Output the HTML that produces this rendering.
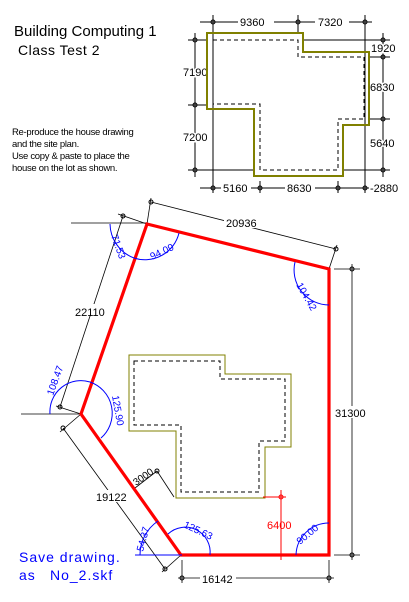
<!DOCTYPE html>
<html><head><meta charset="utf-8"><style>
html,body{margin:0;padding:0;background:#fff;}
svg{display:block;font-family:"Liberation Sans",sans-serif;}
</style></head><body>
<svg width="409" height="602" viewBox="0 0 409 602">
<g fill="#000">
<text x="14" y="36" font-size="15">Building Computing 1</text>
<text x="18" y="55" font-size="14" letter-spacing="0.5">Class Test 2</text>
<text x="12" y="135" font-size="9.5" letter-spacing="-0.3">Re-produce the house drawing</text>
<text x="12" y="147" font-size="9.5" letter-spacing="-0.3">and the site plan.</text>
<text x="12" y="159" font-size="9.5" letter-spacing="-0.3">Use copy &amp; paste to  place the</text>
<text x="12" y="171" font-size="9.5" letter-spacing="-0.3">house on the lot as shown.</text>
</g>
<g fill="#0000ff" font-size="14" letter-spacing="1">
<text x="19" y="562">Save drawing.</text>
<text x="19" y="580">as<tspan x="50">No_2.skf</tspan></text>
</g>

<g stroke="#000" stroke-width="1" fill="none">
<line x1="200" y1="22" x2="372" y2="22"/>
<line x1="213" y1="15" x2="213" y2="193"/>
<line x1="298" y1="15" x2="298" y2="34"/>
<line x1="365" y1="15" x2="365" y2="193"/>
<line x1="195" y1="33" x2="195" y2="177"/>
<line x1="188" y1="40" x2="206" y2="40"/>
<line x1="188" y1="105" x2="206" y2="105"/>
<line x1="188" y1="170" x2="254" y2="170"/>
<line x1="343" y1="170" x2="390" y2="170"/>
<line x1="303" y1="40" x2="390" y2="40"/>
<line x1="369" y1="57" x2="390" y2="57"/>
<line x1="369" y1="119" x2="390" y2="119"/>
<line x1="383" y1="33" x2="383" y2="177"/>
<line x1="200" y1="188" x2="390" y2="188"/>
<line x1="260" y1="181" x2="260" y2="193"/>
<line x1="338" y1="181" x2="338" y2="193"/>
</g>
<g fill="none" stroke="#000">
<circle cx="213" cy="22" r="2"/><circle cx="298" cy="22" r="2"/><circle cx="365" cy="22" r="2"/>
<circle cx="195" cy="40" r="2"/><circle cx="195" cy="105" r="2"/><circle cx="195" cy="170" r="2"/>
<circle cx="383" cy="40" r="2"/><circle cx="383" cy="57" r="2"/><circle cx="383" cy="119" r="2"/><circle cx="383" cy="170" r="2"/>
<circle cx="213" cy="188" r="2"/><circle cx="260" cy="188" r="2"/><circle cx="338" cy="188" r="2"/><circle cx="365" cy="188" r="2"/>
</g>
<g font-size="11" fill="#000">
<rect x="238" y="15" width="36" height="12" fill="#fff"/><text x="240" y="26">9360</text>
<rect x="315" y="15" width="34" height="12" fill="#fff"/><text x="318" y="26">7320</text>
<text x="183" y="76" stroke="#fff" stroke-width="3" paint-order="stroke">7190</text>
<text x="183" y="141" stroke="#fff" stroke-width="3" paint-order="stroke">7200</text>
<text x="371" y="52" stroke="#fff" stroke-width="3" paint-order="stroke">1920</text>
<text x="370" y="91" stroke="#fff" stroke-width="3" paint-order="stroke">6830</text>
<text x="370" y="147" stroke="#fff" stroke-width="3" paint-order="stroke">5640</text>
<rect x="221" y="182" width="30" height="12" fill="#fff"/><text x="223" y="192">5160</text>
<rect x="285" y="182" width="30" height="12" fill="#fff"/><text x="287" y="192">8630</text>
<text x="370" y="192" stroke="#fff" stroke-width="3" paint-order="stroke">-2880</text>
</g>
<polygon points="207,33 303,33 303,52 369,52 369,125 343,125 343,176 254,176 254,109 207,109" fill="none" stroke="#808000" stroke-width="2"/>
<polygon points="213,40 298,40 298,57 364,57 364,119 338,119 338,170 260,170 260,104 213,104" fill="none" stroke="#000" stroke-width="1" stroke-dasharray="4,3"/>

<g stroke="#000" stroke-width="0.8" fill="none">
<line x1="151" y1="202" x2="336" y2="249"/>
<line x1="147" y1="224" x2="151" y2="198"/>
<line x1="329" y1="269" x2="337" y2="245"/>
<line x1="123" y1="216" x2="60" y2="407"/>
<line x1="147" y1="224" x2="118" y2="214"/>
<line x1="81" y1="414" x2="56" y2="406"/>
<line x1="71" y1="223" x2="147" y2="223"/>
<line x1="21" y1="414" x2="81" y2="414"/>
<line x1="63" y1="428" x2="165" y2="569"/>
<line x1="81" y1="414" x2="60" y2="432"/>
<line x1="181" y1="555" x2="162" y2="572"/>
<line x1="182" y1="560" x2="182" y2="583"/>
<line x1="329" y1="560" x2="329" y2="583"/>
<line x1="178" y1="578" x2="334" y2="578"/>
<line x1="334" y1="269" x2="360" y2="269"/>
<line x1="334" y1="555" x2="360" y2="555"/>
<line x1="352" y1="264" x2="352" y2="560"/>
<line x1="135" y1="488" x2="157" y2="471"/>
<line x1="157" y1="471" x2="174" y2="497"/>
</g>
<g fill="none" stroke="#000">
<circle cx="151" cy="202" r="2"/><circle cx="336" cy="249" r="2"/>
<circle cx="123" cy="216" r="2"/><circle cx="60" cy="407" r="2"/>
<circle cx="63" cy="428" r="2"/><circle cx="165" cy="569" r="2"/>
<circle cx="182" cy="578" r="2"/><circle cx="329" cy="578" r="2"/>
<circle cx="352" cy="269" r="2"/><circle cx="352" cy="555" r="2"/>
<circle cx="157" cy="471" r="2"/>
</g>
<g font-size="11" fill="#000">
<rect x="224" y="216" width="36" height="12" fill="#fff"/><text x="226" y="227">20936</text>
<rect x="73" y="304" width="36" height="12" fill="#fff"/><text x="75" y="316">22110</text>
<rect x="94" y="490" width="36" height="12" fill="#fff"/><text x="96" y="501">19122</text>
<rect x="200" y="572" width="36" height="12" fill="#fff"/><text x="202" y="583">16142</text>
<rect x="334" y="406" width="36" height="12" fill="#fff"/><text x="335" y="417">31300</text>
<text x="0" y="0" font-size="10" transform="translate(136,486) rotate(-35)">3000</text>
</g>
<polygon points="147,224 329,269 329,555 181,555 81,414" fill="none" stroke="#ff0000" stroke-width="3.2"/>
<polygon points="129,355 225,355 225,374 291,374 291,447 265,447 265,498 176,498 176,431 129,431" fill="none" stroke="#808000" stroke-width="1"/>
<polygon points="134,361 220,361 220,379 285,379 285,441 259,441 259,492 181,492 181,425 134,425" fill="none" stroke="#000" stroke-width="1" stroke-dasharray="4,3"/>
<g stroke="#ff0000" fill="none">
<line x1="263" y1="497" x2="286" y2="497"/>
<line x1="281" y1="490" x2="281" y2="560"/>
<circle cx="281" cy="497" r="2"/>
<text x="267" y="529" font-size="11" fill="#ff0000" stroke="none">6400</text>
</g>
<g stroke="#0000ff" fill="none" stroke-width="1">
<line x1="135" y1="555" x2="182" y2="555"/>
<path d="M110 224 A37 37 0 0 0 134 258"/>
<path d="M134 258 A35 35 0 0 0 179 233"/>
<path d="M50 414 A31 31 0 0 1 90 382"/>
<path d="M90 382 A33 33 0 0 1 101 438"/>
<path d="M140 555 A41 41 0 0 1 158 521"/>
<path d="M168 534 A25 25 0 0 1 210 555"/>
<path d="M296 555 A33 33 0 0 1 329 523"/>
<path d="M295 262 A35 35 0 0 0 329 305"/>
</g>
<g fill="#0000ff" font-size="10">
<text transform="translate(111,236) rotate(70)">71.53</text>
<text transform="translate(152,260) rotate(-25)">94.09</text>
<text transform="translate(53,396) rotate(-70)">108.47</text>
<text transform="translate(112,396) rotate(80)">125.90</text>
<text transform="translate(143,552) rotate(-75)">54.37</text>
<text transform="translate(183,527) rotate(25)">125.63</text>
<text transform="translate(300,545) rotate(-40)">90.00</text>
<text transform="translate(296,285) rotate(60)">104.42</text>
</g>
</svg>
</body></html>
